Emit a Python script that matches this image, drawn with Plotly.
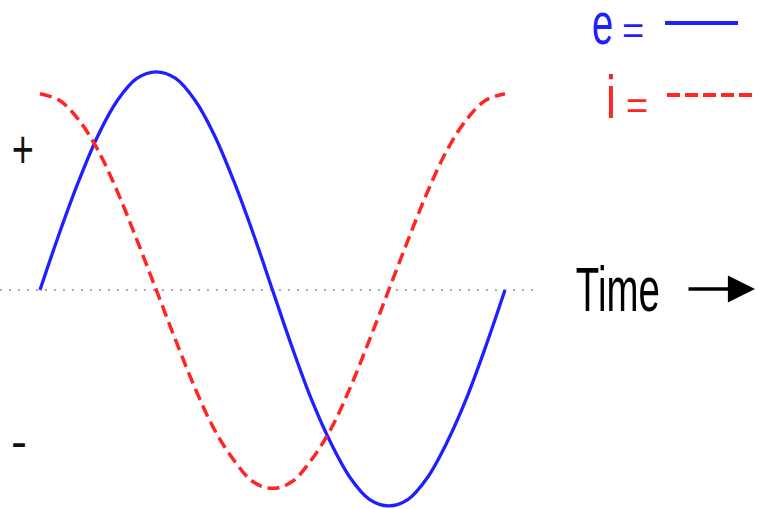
import json
import plotly.graph_objects as go

# Time in degrees (one full cycle)
time_deg = [0, 15, 30, 45, 60, 75, 90, 105, 120, 135, 150, 165, 180,
            195, 210, 225, 240, 255, 270, 285, 300, 315, 330, 345, 360]
# voltage e (blue, solid)
e_vals = [0, 0.26, 0.50, 0.71, 0.87, 0.97, 1.00, 0.97, 0.87, 0.71, 0.50, 0.26, 0,
          -0.26, -0.50, -0.70, -0.86, -0.96, -0.99, -0.96, -0.86, -0.70, -0.50, -0.26, 0]
# current i (red, dashed)
i_vals = [0.90, 0.87, 0.78, 0.64, 0.45, 0.23, 0, -0.23, -0.45, -0.64, -0.78, -0.88, -0.91,
          -0.88, -0.78, -0.64, -0.45, -0.23, 0, 0.23, 0.45, 0.64, 0.78, 0.87, 0.90]

W, H = 758, 509
FONT = "Liberation Sans, Arial, sans-serif"
BLUE = "#1f1fff"
RED = "#ff2525"

fig = go.Figure()
fig.add_trace(go.Scatter(x=time_deg, y=e_vals, mode="lines",
                         line=dict(color=BLUE, width=3.3, shape="spline"),
                         hoverinfo="skip"))
fig.add_trace(go.Scatter(x=time_deg, y=i_vals, mode="lines",
                         line=dict(color=RED, width=3.5, shape="spline", dash="12px,6px"),
                         hoverinfo="skip"))

def px(x):
    return x / W

def py(y):
    return 1 - y / H

shapes = [
    # dotted zero line
    dict(type="line", xref="x", yref="y", x0=-31, x1=383, y0=0, y1=0,
         line=dict(color="#aaaaaa", width=2, dash="2px,7px"), layer="below"),
    # legend lines
    dict(type="line", xref="paper", yref="paper", x0=px(665), x1=px(738), y0=py(23), y1=py(23),
         line=dict(color=BLUE, width=4)),
    dict(type="line", xref="paper", yref="paper", x0=px(667), x1=px(753), y0=py(95), y1=py(95),
         line=dict(color=RED, width=4, dash="13px,5px")),
]

def lab(text, x, y, size, color):
    return dict(text=text, x=px(x), y=py(y), xref="paper", yref="paper", showarrow=False,
                font=dict(family=FONT, size=size, color=color),
                xanchor="center", yanchor="middle")

annotations = [
    lab("e", 602.5, 23, 60, BLUE),        # 0
    lab("=", 632.5, 31, 38, BLUE),        # 1
    lab("i", 610.5, 96, 62, RED),         # 2
    lab("=", 636.5, 106, 38, RED),        # 3
    lab("+", 23, 148.5, 54, "#111111"),   # 4
    lab("-", 19, 441, 48, "#111111"),     # 5
    lab("Time", 617.5, 289, 63, "#000000"),  # 6
    dict(text="", x=px(755), y=py(289), ax=-68, ay=0,
         xref="paper", yref="paper", axref="pixel", ayref="pixel",
         showarrow=True, arrowhead=2, arrowsize=1.55, arrowwidth=3.5, arrowcolor="#000000",
         standoff=0),
]

# horizontal condensing of the narrow lettering (index -> scaleX)
squeeze = {0: 0.64, 2: 0.72, 4: 0.7, 6: 0.61}

fig.update_layout(
    width=W, height=H,
    margin=dict(l=0, r=0, t=0, b=0),
    paper_bgcolor="white", plot_bgcolor="white",
    showlegend=False,
    xaxis=dict(range=[-30.97, 555.87], visible=False, fixedrange=True),
    yaxis=dict(range=[-1.0046, 1.330], visible=False, fixedrange=True),
    shapes=shapes,
    annotations=annotations,
)

post = """
document.body.style.margin='0';
var sq = %s;
Object.keys(sq).forEach(function(k){
  var g = document.querySelector('g.annotation[data-index="' + k + '"] text.annotation-text');
  if (g) {
    g.style.transformBox = 'fill-box';
    g.style.transformOrigin = 'center';
    g.style.transform = 'scale(' + sq[k] + ',1)';
  }
});
""" % json.dumps({str(k): v for k, v in squeeze.items()})

fig.write_html("out.html", config={"displayModeBar": False}, post_script=post)
